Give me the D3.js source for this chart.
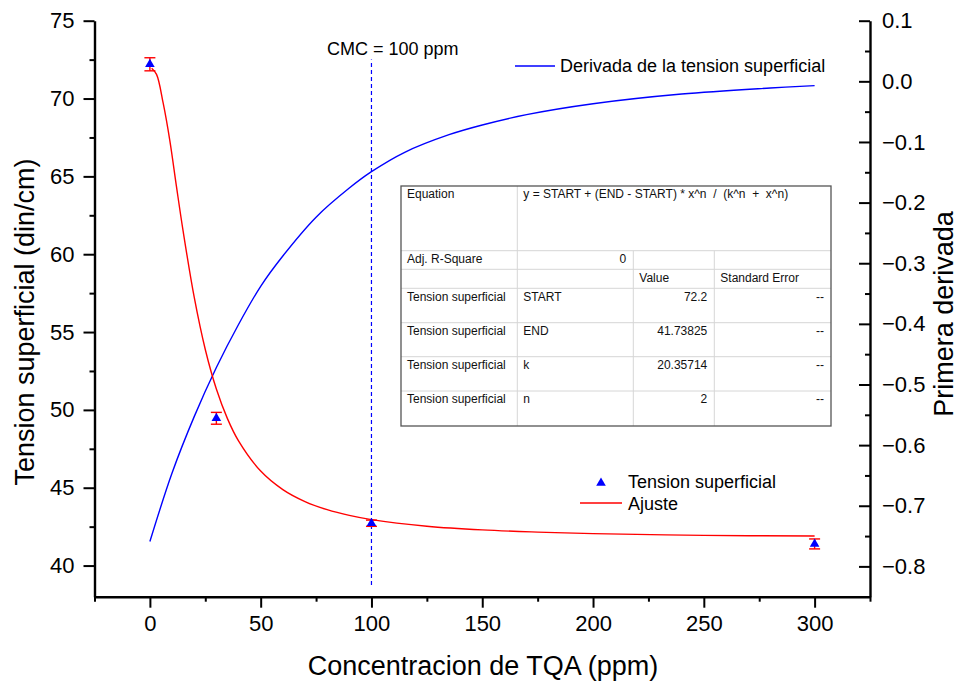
<!DOCTYPE html>
<html>
<head>
<meta charset="utf-8">
<script src="https://cdn.jsdelivr.net/npm/d3@7"></script>
<style>
  html, body { margin: 0; padding: 0; background: #fff; }
  svg { display: block; font-family: "Liberation Sans", Arial, sans-serif; }
</style>
</head>
<body>
<svg id="chart" width="959" height="683"></svg>
<script>
// Measured surface tension (din/cm) vs TQA concentration (ppm)
const concentrations = [0, 30, 100, 300];
const tension = [72.2, 49.46, 42.72, 41.39];
const tensionErr = [0.42, 0.38, 0.2, 0.32];

// Fitted curve (Ajuste), sampled along the concentration range
const fitX = [0.8, 3, 6, 9, 12, 15, 20, 25, 30, 35, 40, 50, 60, 70, 80, 90, 100, 125, 150, 175, 200, 250, 300];
const fitY = [71.95, 71.55, 69.7, 67.3, 64.34, 61.48, 57.24, 53.88, 51.34, 49.44, 48.01, 46.07, 44.88, 44.11, 43.59, 43.22, 42.95, 42.53, 42.29, 42.15, 42.05, 41.94, 41.9];

// First derivative of the surface tension (right axis)
const derivX = [0, 10, 20, 30, 40, 50, 60, 75, 90, 100, 115, 135, 150, 170, 200, 240, 280, 300];
const derivY = [-0.759, -0.646, -0.553, -0.472, -0.401, -0.338, -0.288, -0.224, -0.176, -0.149, -0.117, -0.088, -0.072, -0.055, -0.037, -0.021, -0.011, -0.007];

// Critical micelle concentration marker
const cmcValue = 100;
const cmcSpan = [38.75, 72.5];
const cmcLabel = "CMC = 100 ppm";

// Axis ticks
const xMajor = [0, 50, 100, 150, 200, 250, 300];
const xMinor = [-25, 25, 75, 125, 175, 225, 275, 325];
const yLeftMajor = [40, 45, 50, 55, 60, 65, 70, 75];
const yLeftMinor = [42.5, 47.5, 52.5, 57.5, 62.5, 67.5, 72.5];
const yRightMajor = [-0.8, -0.7, -0.6, -0.5, -0.4, -0.3, -0.2, -0.1, 0.0, 0.1];
const yRightMinor = [-0.75, -0.65, -0.55, -0.45, -0.35, -0.25, -0.15, -0.05, 0.05];

// Axis titles and legend labels
const xTitle = "Concentracion de TQA (ppm)";
const yLeftTitle = "Tension superficial (din/cm)";
const yRightTitle = "Primera derivada";
const derivLegend = "Derivada de la tension superficial";
const pointsLegend = "Tension superficial";
const fitLegend = "Ajuste";

// Fit report table
const equationLabel = "Equation";
const equationText = "y = START + (END - START) * x^n  /  (k^n  +  x^n)";
const tableRows = [
  ["Adj. R-Square", "0", "", ""],
  ["", "", "Value", "Standard Error"],
  ["Tension superficial", "START", "72.2", "--"],
  ["Tension superficial", "END", "41.73825", "--"],
  ["Tension superficial", "k", "20.35714", "--"],
  ["Tension superficial", "n", "2", "--"]
];

const svg = d3.select("#chart");
const RED = "#ff0000", BLUE = "#0000ff";

const plot = { left: 94.5, right: 870, top: 20.7, bottom: 596.7 };
const x = d3.scaleLinear([-25, 325], [plot.left, plot.right]);
const yL = d3.scaleLinear([38, 75], [plot.bottom, plot.top]);
const yR = d3.scaleLinear([-0.85, 0.1], [plot.bottom, plot.top]);

// ---- axes ----
function styleAxis(g, fontSize) {
  g.select(".domain").attr("stroke", "#000").attr("stroke-width", 2.4);
  g.selectAll(".tick line").attr("stroke", "#000").attr("stroke-width", 2);
  g.selectAll(".tick text").attr("font-size", fontSize).attr("fill", "#000")
    .attr("font-family", "Liberation Sans, Arial, sans-serif");
}

// bottom
svg.append("g").attr("transform", `translate(0,${plot.bottom})`)
  .call(d3.axisBottom(x).tickValues(xMinor).tickSize(5).tickSizeOuter(0).tickFormat(""))
  .call(g => { styleAxis(g, 0); g.select(".domain").remove(); });
svg.append("g").attr("transform", `translate(0,${plot.bottom})`)
  .call(d3.axisBottom(x).tickValues(xMajor).tickSize(11).tickPadding(8).tickSizeOuter(0).tickFormat(d3.format("d")))
  .call(g => styleAxis(g, 22));

// left
svg.append("g").attr("transform", `translate(${plot.left},0)`)
  .call(d3.axisLeft(yL).tickValues(yLeftMinor).tickSize(5).tickSizeOuter(0).tickFormat(""))
  .call(g => { styleAxis(g, 0); g.select(".domain").remove(); });
svg.append("g").attr("transform", `translate(${plot.left},0)`)
  .call(d3.axisLeft(yL).tickValues(yLeftMajor).tickSize(11).tickPadding(9).tickSizeOuter(0).tickFormat(d3.format("d")))
  .call(g => styleAxis(g, 22));

// right (ticks point into the plot)
svg.append("g").attr("transform", `translate(${plot.right},0)`)
  .call(d3.axisRight(yR).tickValues(yRightMinor).tickSize(-5).tickSizeOuter(0).tickFormat(""))
  .call(g => { styleAxis(g, 0); g.select(".domain").remove(); });
svg.append("g").attr("transform", `translate(${plot.right},0)`)
  .call(d3.axisRight(yR).tickValues(yRightMajor).tickSize(-11).tickPadding(12).tickSizeOuter(0).tickFormat(d3.format(".1f")))
  .call(g => styleAxis(g, 22));

// axis titles
svg.append("text")
  .attr("x", 483).attr("y", 675)
  .attr("text-anchor", "middle").attr("font-size", 27).text(xTitle);
svg.append("text")
  .attr("transform", "translate(33.5,322) rotate(-90)")
  .attr("text-anchor", "middle").attr("font-size", 27).text(yLeftTitle);
svg.append("text")
  .attr("transform", "translate(953,314) rotate(-90)")
  .attr("text-anchor", "middle").attr("font-size", 27).text(yRightTitle);

// ---- CMC marker ----
svg.append("line")
  .attr("x1", x(cmcValue)).attr("x2", x(cmcValue))
  .attr("y1", yL(cmcSpan[0])).attr("y2", yL(cmcSpan[1]))
  .attr("stroke", BLUE).attr("stroke-width", 1.2).attr("stroke-dasharray", "4,3");
svg.append("text").attr("x", 327).attr("y", 55).attr("font-size", 18).text(cmcLabel);

// ---- derivative curve ----
const derivLine = d3.line().x((d, i) => x(derivX[i])).y(d => yR(d)).curve(d3.curveCatmullRom.alpha(0.5));
svg.append("path").datum(derivY).attr("d", derivLine)
  .attr("fill", "none").attr("stroke", BLUE).attr("stroke-width", 1.4);

// ---- fitted curve ----
const fitLine = d3.line().x((d, i) => x(fitX[i])).y(d => yL(d)).curve(d3.curveCatmullRom.alpha(0.5));
svg.append("path").datum(fitY).attr("d", fitLine)
  .attr("fill", "none").attr("stroke", RED).attr("stroke-width", 1.4);

// ---- measured points with error bars ----
const pts = concentrations.map((c, i) => ({ c, v: tension[i], e: tensionErr[i] }));
const capW = 5.5;
const eb = svg.append("g").attr("stroke", RED).attr("stroke-width", 1.4);
pts.forEach(p => {
  const cx = x(p.c), top = yL(p.v + p.e), bot = yL(p.v - p.e);
  eb.append("line").attr("x1", cx).attr("x2", cx).attr("y1", top).attr("y2", bot);
  eb.append("line").attr("x1", cx - capW).attr("x2", cx + capW).attr("y1", top).attr("y2", top);
  eb.append("line").attr("x1", cx - capW).attr("x2", cx + capW).attr("y1", bot).attr("y2", bot);
});
const tri = d3.symbol(d3.symbolTriangle, 40);
svg.append("g").selectAll("path").data(pts).join("path")
  .attr("d", tri).attr("transform", d => `translate(${x(d.c)},${yL(d.v)})`)
  .attr("fill", BLUE);

// ---- legends ----
svg.append("line").attr("x1", 515).attr("x2", 555).attr("y1", 66).attr("y2", 66)
  .attr("stroke", BLUE).attr("stroke-width", 1.4);
svg.append("text").attr("x", 560).attr("y", 72).attr("font-size", 18).text(derivLegend);

svg.append("path").attr("d", tri).attr("transform", "translate(601,483)").attr("fill", BLUE);
svg.append("text").attr("x", 628).attr("y", 488).attr("font-size", 18).text(pointsLegend);
svg.append("line").attr("x1", 580).attr("x2", 622).attr("y1", 503).attr("y2", 503)
  .attr("stroke", RED).attr("stroke-width", 1.4);
svg.append("text").attr("x", 628).attr("y", 510).attr("font-size", 18).text(fitLegend);

// ---- fit report table ----
const colX = [401, 517.3, 633.3, 714.3, 831];
const rowY = [186, 250.7, 269.3, 288.3, 322.7, 356.7, 391, 426];
const tbl = svg.append("g").attr("font-size", 12).attr("fill", "#111");
tbl.append("rect").attr("x", colX[0]).attr("y", rowY[0])
  .attr("width", colX[4] - colX[0]).attr("height", rowY[7] - rowY[0]).attr("fill", "#fff");
const grid = tbl.append("g").attr("stroke", "#d6d6d6").attr("stroke-width", 1);
rowY.slice(1, -1).forEach(yy => grid.append("line").attr("x1", colX[0]).attr("x2", colX[4]).attr("y1", yy).attr("y2", yy));
grid.append("line").attr("x1", colX[1]).attr("x2", colX[1]).attr("y1", rowY[0]).attr("y2", rowY[7]);
[colX[2], colX[3]].forEach(xx => grid.append("line").attr("x1", xx).attr("x2", xx).attr("y1", rowY[1]).attr("y2", rowY[7]));
tbl.append("rect").attr("x", colX[0]).attr("y", rowY[0])
  .attr("width", colX[4] - colX[0]).attr("height", rowY[7] - rowY[0])
  .attr("fill", "none").attr("stroke", "#555").attr("stroke-width", 1.3);

tbl.append("text").attr("x", colX[0] + 6).attr("y", rowY[0] + 12.4).text(equationLabel);
tbl.append("text").attr("x", colX[1] + 6).attr("y", rowY[0] + 12.4)
  .style("white-space", "pre").text(equationText);
const rightAligned = s => s === "--" || /^-?\d+(\.\d+)?$/.test(s);
tableRows.forEach((row, r) => {
  row.forEach((cell, c) => {
    if (!cell) return;
    const ra = rightAligned(cell);
    tbl.append("text")
      .attr("x", ra ? colX[c + 1] - 7 : colX[c] + 6)
      .attr("y", rowY[r + 1] + 12.4)
      .attr("text-anchor", ra ? "end" : "start")
      .text(cell);
  });
});
</script>
</body>
</html>
